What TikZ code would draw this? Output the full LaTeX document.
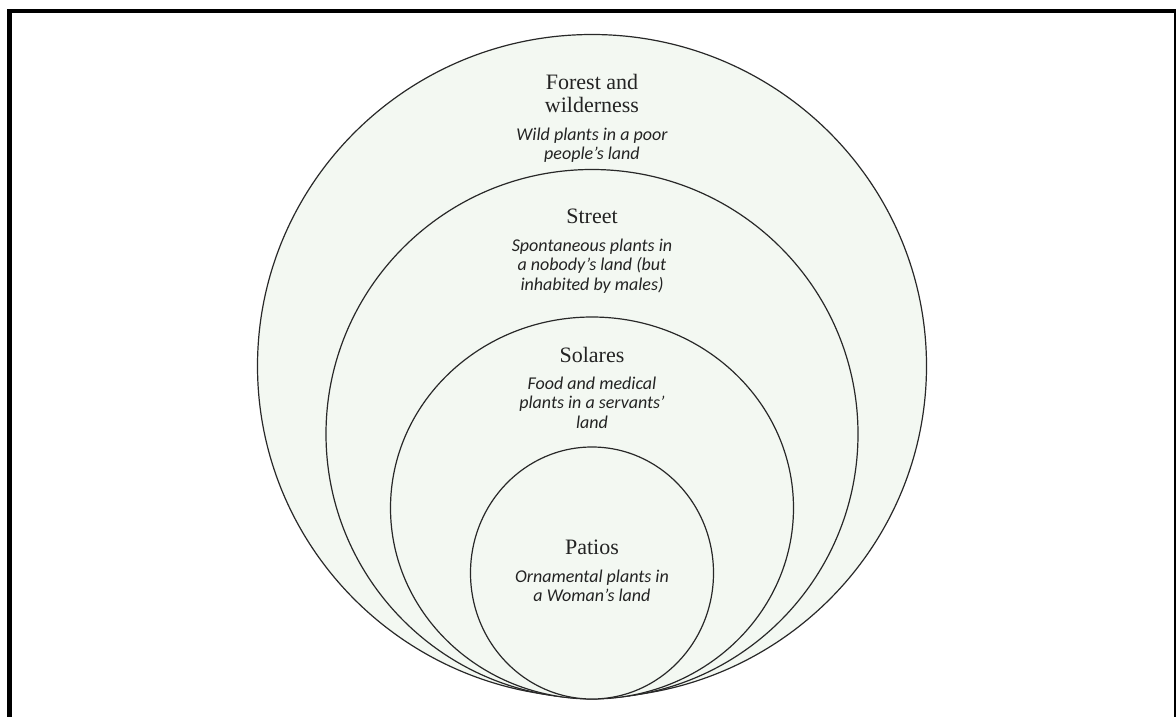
\documentclass[tikz,border=0pt]{standalone}
\usepackage{fontspec}
\setmainfont{Liberation Serif}
\newfontfamily\descfont{Carlito}
\usetikzlibrary{shapes.geometric}
\definecolor{zonefill}{RGB}{243,248,242}
\definecolor{zoneline}{RGB}{40,40,40}
\definecolor{labeltext}{RGB}{35,35,35}

\begin{document}
\begin{tikzpicture}[x=1pt,y=-1pt,
   zone/.style={ellipse,draw=zoneline,fill=zonefill,line width=1.2pt,inner sep=0pt},
   title/.style={font=\fontsize{22}{22}\selectfont,text=labeltext,align=center,inner sep=0pt,anchor=base},
   desc/.style={font=\descfont\itshape\fontsize{18}{19.5}\selectfont,text=labeltext,align=center,inner sep=0pt,anchor=base}]
   \useasboundingbox (0,0) rectangle (1176,717);
   \clip (0,0) rectangle (1176,717);
   \draw[line width=4.5pt] (9.5,730) |- (1176.5,11) -- (1176.5,730);
   \node (forest)  at (592,366) [zone,minimum width=669,minimum height=663] {};
   \node (street)  at (592,434) [zone,minimum width=532,minimum height=529] {};
   \node (solares) at (592,508) [zone,minimum width=403,minimum height=382] {};
   \node (patios)  at (592,573) [zone,minimum width=243,minimum height=252] {};
   \node (forestname)  at (592,112)   [title] {Forest and\\wilderness};
   \node (forestuse)   at (592,159.5) [desc] {Wild plants in a poor\\people’s land};
   \node (streetname)  at (592,223)   [title] {Street};
   \node (streetuse)   at (592,290)   [desc] {Spontaneous plants in\\a nobody’s land (but\\inhabited by males)};
   \node (solaresname) at (592,362)   [title] {Solares};
   \node (solaresuse)  at (592,428)   [desc] {Food and medical\\plants in a servants’\\land};
   \node (patiosname)  at (592,554)   [title] {Patios};
   \node (patiosuse)   at (592,601.5) [desc] {Ornamental plants in\\a Woman’s land};
\end{tikzpicture}
\end{document}
